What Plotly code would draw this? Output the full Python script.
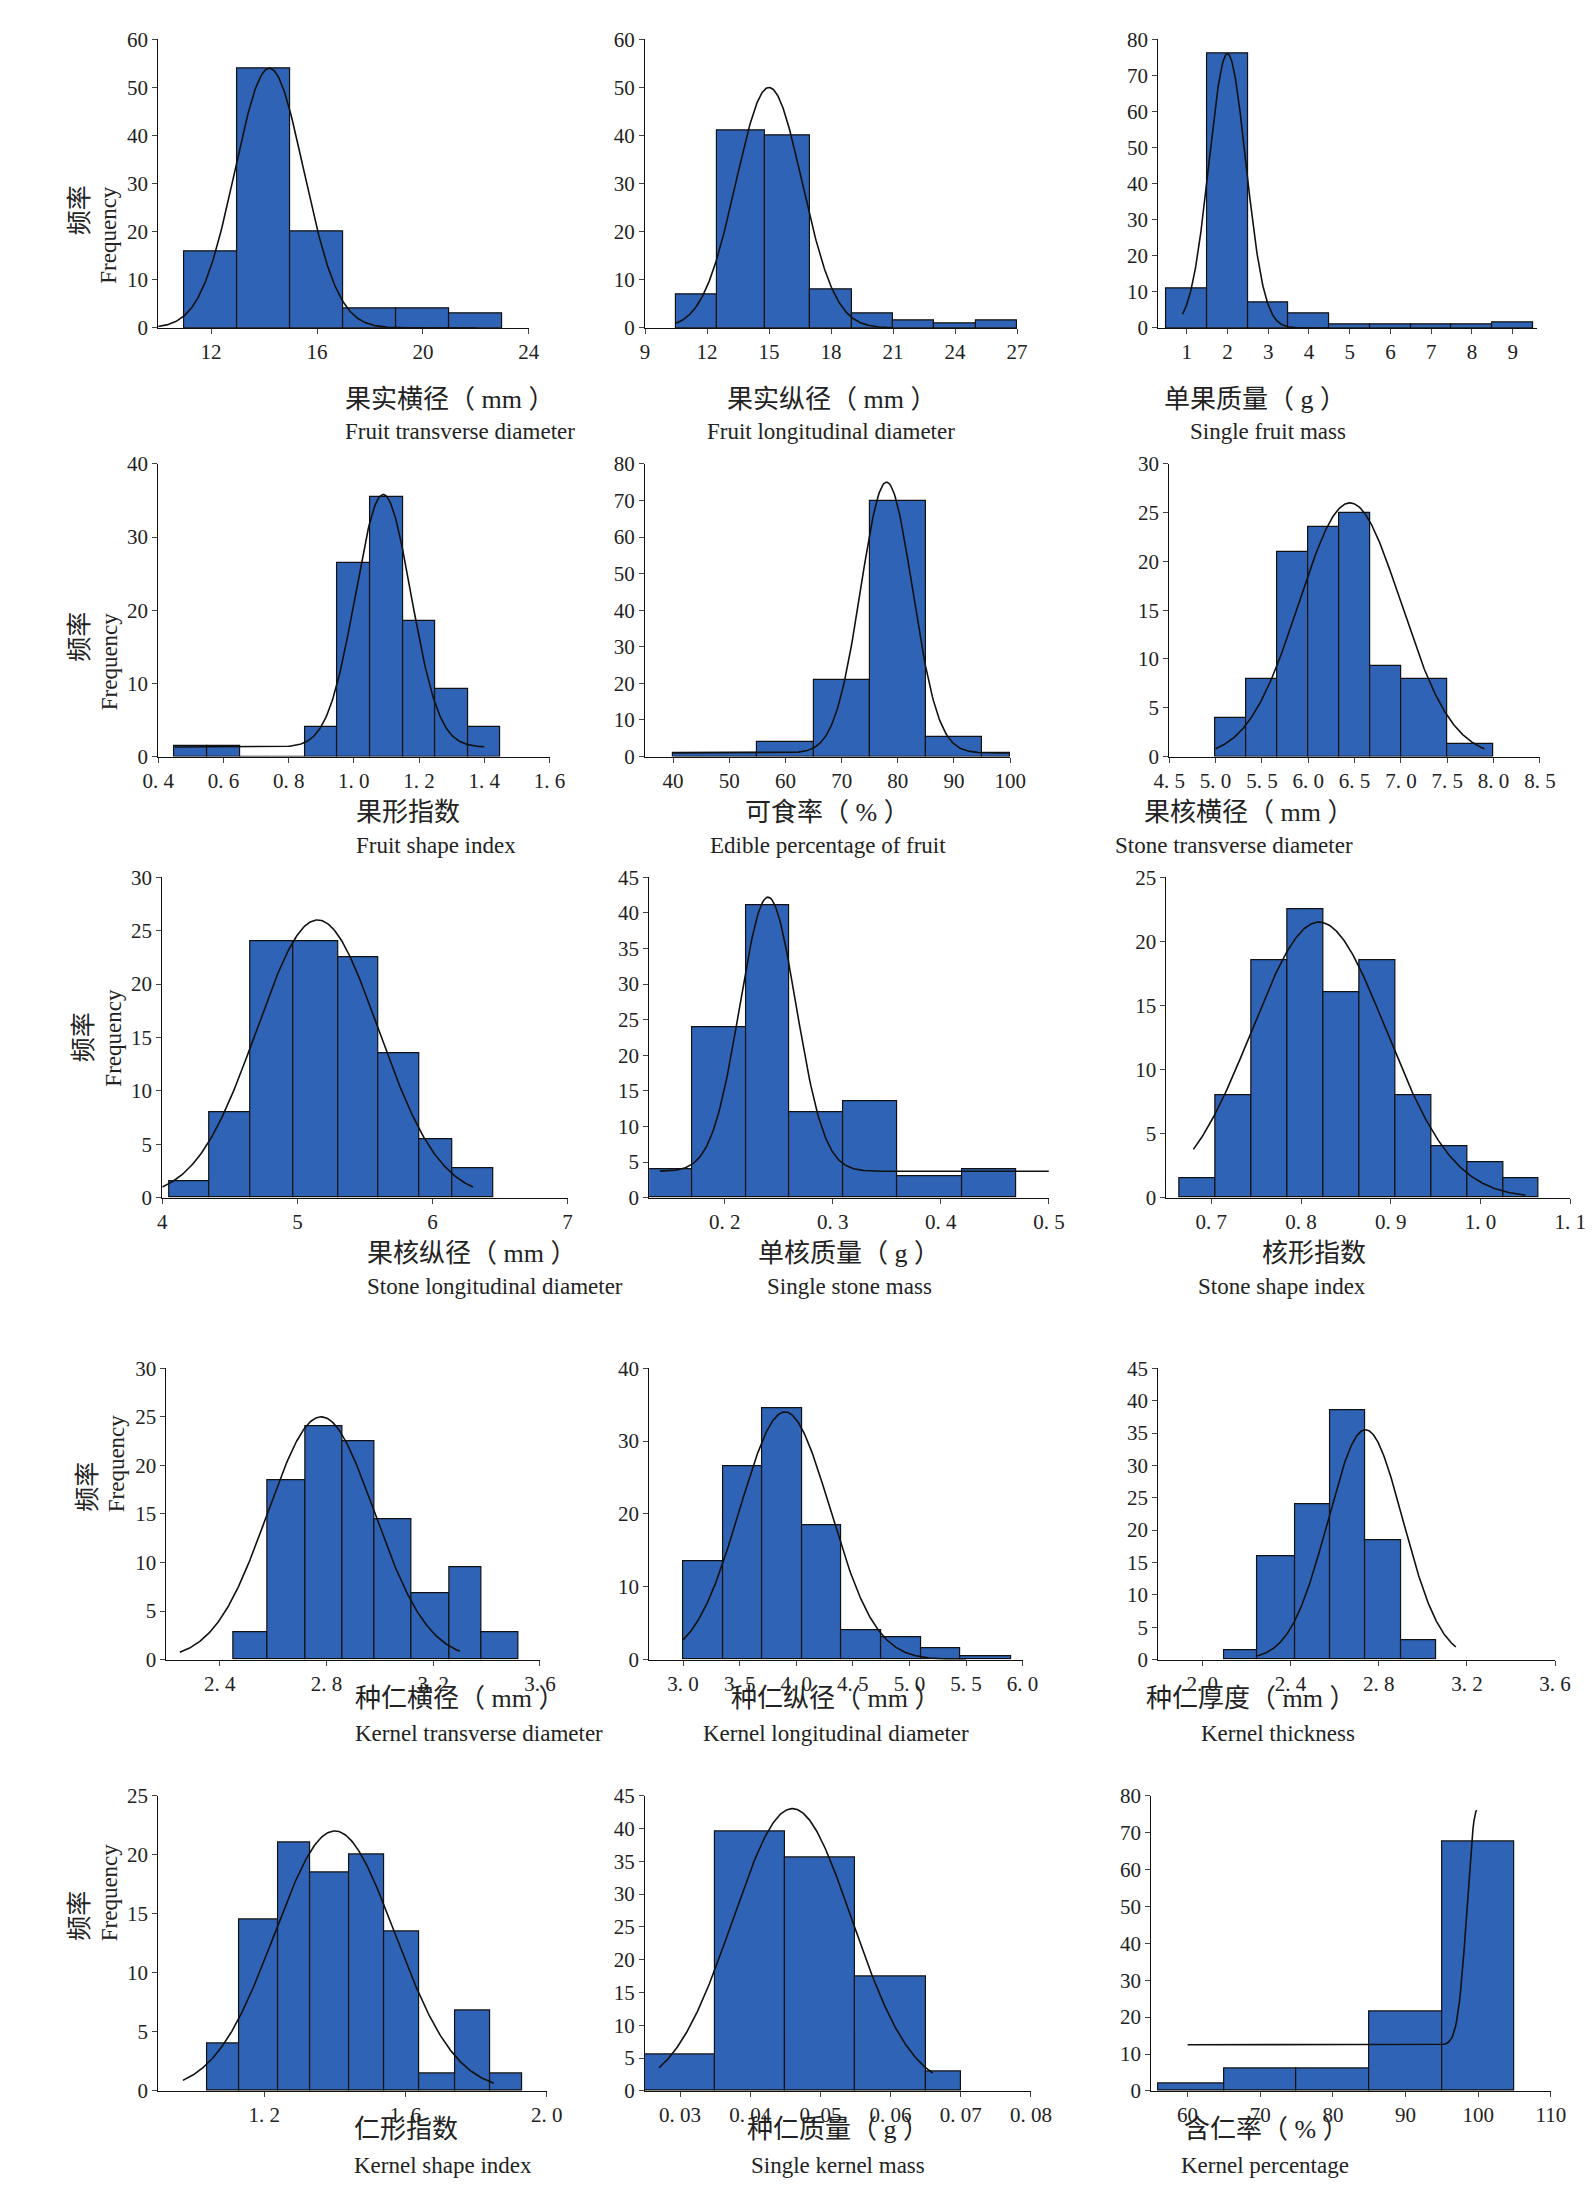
import plotly.graph_objects as go
import numpy as np

W, H = 1593, 2199
SX = 1593 / 1125.0
SY = 2199 / 1568.0

# ---- data: bin edges, bar heights, fitted-curve params ----
edges = [
    [11, 13, 15, 17, 19, 21, 23],
    [10.5, 12.5, 14.8, 17, 19, 21, 23, 25, 27],
    [0.5, 1.5, 2.5, 3.5, 4.5, 5.5, 6.5, 7.5, 8.5, 9.5],
    [0.45, 0.55, 0.65, 0.75, 0.85, 0.95, 1.05, 1.15, 1.25, 1.35, 1.45],
    [40, 55, 65, 75, 85, 95, 100],
    [5.0, 5.33, 5.67, 6.0, 6.33, 6.67, 7.0, 7.5, 8.0],
    [4.05, 4.35, 4.65, 4.97, 5.3, 5.6, 5.9, 6.15, 6.45],
    [0.13, 0.17, 0.22, 0.26, 0.31, 0.36, 0.42, 0.47],
    [0.665, 0.705, 0.745, 0.785, 0.825, 0.865, 0.905, 0.945, 0.985, 1.025, 1.065],
    [2.45, 2.58, 2.72, 2.86, 2.98, 3.12, 3.26, 3.38, 3.52],
    [3.0, 3.35, 3.7, 4.05, 4.4, 4.75, 5.1, 5.45, 5.9],
    [2.1, 2.25, 2.42, 2.58, 2.74, 2.9, 3.06],
    [1.04, 1.13, 1.24, 1.33, 1.44, 1.54, 1.64, 1.74, 1.84, 1.93],
    [0.025, 0.035, 0.045, 0.055, 0.065, 0.07],
    [56, 65, 75, 85, 95, 105],
]
heights = [
    [16, 54, 20, 4, 4, 3],
    [7, 41, 40, 8, 3, 1.5, 1, 1.5],
    [11, 76, 7, 4, 1, 1, 1, 1, 1.5],
    [1.5, 1.5, 0, 0, 4, 26.5, 35.5, 18.5, 9.3, 4],
    [1, 4, 21, 70, 5.5, 1],
    [4, 8, 21, 23.5, 25, 9.3, 8, 1.3],
    [1.5, 8, 24, 24, 22.5, 13.5, 5.5, 2.8],
    [4, 24, 41, 12, 13.5, 3, 4],
    [1.5, 8, 18.5, 22.5, 16, 18.5, 8, 4, 2.8, 1.5],
    [2.8, 18.5, 24, 22.5, 14.5, 6.8, 9.5, 2.8],
    [13.5, 26.5, 34.5, 18.5, 4, 3, 1.5, 0.5],
    [1.5, 16, 24, 38.5, 18.5, 3],
    [4, 14.5, 21, 18.5, 20, 13.5, 1.5, 6.8, 1.5],
    [5.5, 39.5, 35.5, 17.5, 3],
    [2, 6, 6, 21.5, 67.5],
]
# mu, sigma, peak, base, x start, x end
curves = [
    (14.2, 1.3, 54, 0, 10, 22),
    (15.0, 1.6, 50, 0, 10.5, 21),
    (2.0, 0.45, 76, 0, 0.9, 4.5),
    (1.09, 0.085, 34.5, 1.3, 0.45, 1.4),
    (78, 4.6, 74, 1, 40, 100),
    (6.45, 0.55, 26, 0, 5.0, 7.9),
    (5.15, 0.45, 26, 0, 4.0, 6.3),
    (0.24, 0.026, 38.5, 3.7, 0.14, 0.5),
    (0.82, 0.075, 21.5, 0, 0.68, 1.05),
    (2.78, 0.2, 25, 0, 2.25, 3.3),
    (3.9, 0.4, 34, 0, 3.0, 5.5),
    (2.74, 0.17, 35.5, 0, 2.25, 3.15),
    (1.4, 0.17, 22, 0, 0.97, 1.85),
    (0.046, 0.0085, 43, 0, 0.027, 0.066),
    (99.8, 1.3, 63.5, 12.5, 60, 99.8),
]
xranges = [(10, 24), (9, 27), (0.3, 9.6), (0.4, 1.6), (35, 100), (4.5, 8.5), (4, 7), (0.13, 0.5),
           (0.65, 1.1), (2.2, 3.6), (2.7, 6.0), (1.8, 3.6), (0.9, 2.0), (0.025, 0.08), (55, 110)]
xticks = [[12, 16, 20, 24], [9, 12, 15, 18, 21, 24, 27], list(range(1, 10)),
          [0.4, 0.6, 0.8, 1.0, 1.2, 1.4, 1.6], list(range(40, 101, 10)),
          [4.5, 5.0, 5.5, 6.0, 6.5, 7.0, 7.5, 8.0, 8.5], [4, 5, 6, 7], [0.2, 0.3, 0.4, 0.5],
          [0.7, 0.8, 0.9, 1.0, 1.1], [2.4, 2.8, 3.2, 3.6], [3.0, 3.5, 4.0, 4.5, 5.0, 5.5, 6.0],
          [2.0, 2.4, 2.8, 3.2, 3.6], [1.2, 1.6, 2.0], [0.03, 0.04, 0.05, 0.06, 0.07, 0.08],
          [60, 70, 80, 90, 100, 110]]
xdec = [0, 0, 0, 1, 0, 1, 0, 1, 1, 1, 1, 1, 1, 2, 0]
ymax = [60, 60, 80, 40, 80, 30, 30, 45, 25, 30, 40, 45, 25, 45, 80]
ystep = [10, 10, 10, 10, 10, 5, 5, 5, 5, 5, 10, 5, 5, 5, 10]
cn_labels = ["果实横径（ mm ）", "果实纵径（ mm ）", "单果质量（ g ）", "果形指数", "可食率（ % ）", "果核横径（ mm ）",
             "果核纵径（ mm ）", "单核质量（ g ）", "核形指数", "种仁横径（ mm ）", "种仁纵径（ mm ）", "种仁厚度（ mm ）",
             "仁形指数", "种仁质量（ g ）", "含仁率（ % ）"]
en_labels = ["Fruit transverse diameter", "Fruit longitudinal diameter", "Single fruit mass",
             "Fruit shape index", "Edible percentage of fruit", "Stone transverse diameter",
             "Stone longitudinal diameter", "Single stone mass", "Stone shape index",
             "Kernel transverse diameter", "Kernel longitudinal diameter", "Kernel thickness",
             "Kernel shape index", "Single kernel mass", "Kernel percentage"]

# panel boxes in reference-preview px (x0, x1), (ytop, ybottom)
rows_y = [(14, 222), (320, 531), (618, 849), (972, 1182), (1280, 1493)]
cols_x = [[(97, 365), (449, 718), (820, 1094)],
          [(97, 380), (449, 713), (828, 1096)],
          [(100, 393), (452, 741), (826, 1118)],
          [(103, 373), (452, 722), (820, 1107)],
          [(97, 378), (449, 728), (815, 1104)]]

FONT = "Liberation Serif, Noto Sans CJK SC"
fig = go.Figure()
annotations = []
layout = {}
for i in range(15):
    r, c = divmod(i, 3)
    x0, x1 = cols_x[r][c]
    yt, yb = rows_y[r]
    ax = "" if i == 0 else str(i + 1)
    e = edges[i]
    h = heights[i]
    mids = [(e[k] + e[k + 1]) / 2 for k in range(len(h))]
    wid = [e[k + 1] - e[k] for k in range(len(h))]
    fig.add_trace(go.Bar(x=mids, y=h, width=wid, marker=dict(color="#2f63b6", line=dict(color="#111", width=1.2)),
                         xaxis="x" + ax, yaxis="y" + ax, showlegend=False))
    mu, sd, pk, base, xs, xe = curves[i]
    xx = np.linspace(xs, xe, 300)
    yy = base + pk * np.exp(-0.5 * ((xx - mu) / sd) ** 2)
    fig.add_trace(go.Scatter(x=xx, y=yy, mode="lines", line=dict(color="#111", width=1.6),
                             xaxis="x" + ax, yaxis="y" + ax, showlegend=False))
    dec = xdec[i]
    tt = [("%.*f" % (dec, v)).replace(".", ". ") for v in xticks[i]]
    layout["xaxis" + ax] = dict(domain=[x0 * SX / W, x1 * SX / W], anchor="y" + ax, range=list(xranges[i]),
                                tickvals=xticks[i], ticktext=tt, showline=True, linecolor="#111",
                                ticks="outside", ticklen=5, showgrid=False, zeroline=False,
                                tickfont=dict(size=21, family=FONT, color="#222"))
    layout["yaxis" + ax] = dict(domain=[1 - yb * SY / H, 1 - yt * SY / H], anchor="x" + ax, range=[0, ymax[i]],
                                dtick=ystep[i], showline=True, linecolor="#111", ticks="outside", ticklen=5,
                                showgrid=False, zeroline=False, tickfont=dict(size=21, family=FONT, color="#222"))
    xc = (x0 + x1) / 2 * SX / W
    annotations.append(dict(x=xc, y=1 - (yb + 40) * SY / H, xref="paper", yref="paper", text=cn_labels[i],
                            showarrow=False, font=dict(size=26, family=FONT, color="#222")))
    annotations.append(dict(x=xc, y=1 - (yb + 64) * SY / H, xref="paper", yref="paper", text=en_labels[i],
                            showarrow=False, font=dict(size=23, family=FONT, color="#222")))
    if c == 0:
        ym = 1 - (yt + yb) / 2 * SY / H
        annotations.append(dict(x=(x0 - 68) * SX / W, y=ym, xref="paper", yref="paper", text="频率", textangle=-90,
                                showarrow=False, font=dict(size=25, family=FONT, color="#222")))
        annotations.append(dict(x=(x0 - 46) * SX / W, y=ym, xref="paper", yref="paper", text="Frequency",
                                textangle=-90, showarrow=False, font=dict(size=23, family=FONT, color="#222")))

fig.update_layout(width=W, height=H, margin=dict(l=0, r=0, t=0, b=0), plot_bgcolor="white",
                  paper_bgcolor="white", annotations=annotations, bargap=0, **layout)
fig.write_html("out.html")
